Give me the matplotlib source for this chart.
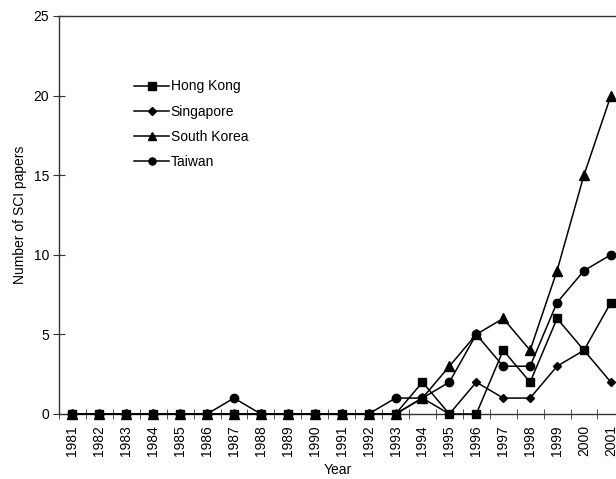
import matplotlib.pyplot as plt
import numpy as np

plt.rcParams['font.family'] = ['Liberation Sans', 'DejaVu Sans']

years = list(range(1981, 2002))
hong_kong = [0, 0, 0, 0, 0, 0, 0, 0, 0, 0, 0, 0, 0, 2, 0, 0, 4, 2, 6, 4, 7]
singapore = [0, 0, 0, 0, 0, 0, 0, 0, 0, 0, 0, 0, 0, 1, 0, 2, 1, 1, 3, 4, 2]
south_korea = [0, 0, 0, 0, 0, 0, 0, 0, 0, 0, 0, 0, 0, 1, 3, 5, 6, 4, 9, 15, 20]
taiwan = [0, 0, 0, 0, 0, 0, 1, 0, 0, 0, 0, 0, 1, 1, 2, 5, 3, 3, 7, 9, 10]

series = [
    ("Hong Kong", hong_kong, "s", 6),
    ("Singapore", singapore, "D", 4.5),
    ("South Korea", south_korea, "^", 6.5),
    ("Taiwan", taiwan, "o", 6),
]

fig = plt.figure(figsize=(6.16, 4.79), dpi=100)
ax = fig.add_axes([0.0958, 0.1357, 0.9042, 0.831])

for name, vals, mk, ms in series:
    ax.plot(years, vals, color="black", lw=1.1, marker=mk, ms=ms,
            clip_on=False, zorder=3, label=name)

ax.set_xlim(1980.5, 2001.19)
ax.set_ylim(0, 25)
ax.set_yticks(range(0, 26, 5))
ax.set_xticks(years)
ax.set_xticklabels([str(y) for y in years], rotation=90)
ax.set_xticks(np.arange(1980.5, 2001.5, 1.0), minor=True)
ax.tick_params(axis="x", which="major", length=0, pad=8, labelsize=10)
ax.tick_params(axis="x", which="minor", length=7, direction="inout",
               color="#333333")
ax.tick_params(axis="y", length=8, direction="inout", labelsize=10,
               color="#333333", pad=3)

ax.spines["right"].set_visible(False)
for s in ("left", "bottom", "top"):
    ax.spines[s].set_color("#333333")
    ax.spines[s].set_linewidth(1.0)

ax.set_xlabel("Year", fontsize=10, labelpad=5)
ax.set_ylabel("Number of SCI papers", fontsize=10, labelpad=5)

# legend: handles drawn with smaller markers, no frame
leg = ax.legend(loc="upper left", bbox_to_anchor=(0.123, 0.858),
                frameon=False, fontsize=10, handlelength=2.5,
                handletextpad=0.1, labelspacing=0.8, borderpad=0,
                markerscale=0.85)

fig.savefig("out.png", dpi=100)
